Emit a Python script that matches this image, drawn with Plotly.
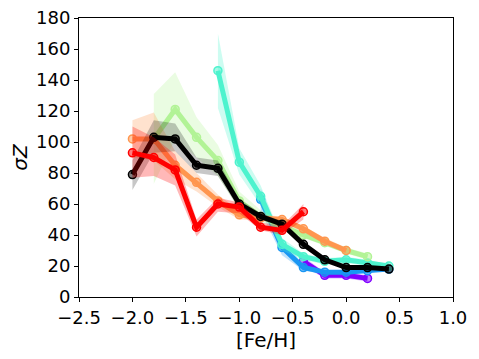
import plotly.graph_objects as go

# [Fe/H] bins for each series
feh_purple = [-0.4, -0.2, 0.0, 0.2]
sz_purple = [23, 14, 14, 12]
lo_purple = [20, 12, 12, 10]
hi_purple = [26, 16, 16, 14]

feh_blue = [-0.8, -0.6, -0.4, -0.2, 0.0, 0.2, 0.4]
sz_blue = [63, 32, 19, 16, 16, 17, 18]
lo_blue = [55, 27, 17, 15, 15, 16, 17]
hi_blue = [70, 37, 21, 17, 17, 18, 19]

feh_turq = [-1.2, -1.0, -0.8, -0.6, -0.4, -0.2, 0.0, 0.2, 0.4]
sz_turq = [146, 87, 65, 34, 26, 23, 24, 22, 20]
lo_turq = [122, 79, 59, 30, 24, 21, 22, 20, 19]
hi_turq = [170, 96, 72, 38, 28, 25, 26, 24, 21]

feh_green = [-1.8, -1.6, -1.4, -1.2, -1.0, -0.8, -0.6, -0.4, -0.2, 0.0, 0.2]
sz_green = [102, 121, 103, 88, 62, 52, 46, 40, 35, 30, 26]
lo_green = [73, 102, 90, 78, 56, 48, 43, 38, 33, 28, 24]
hi_green = [131, 145, 116, 98, 68, 56, 49, 42, 37, 32, 28]

feh_orange = [-2.0, -1.8, -1.6, -1.4, -1.2, -1.0, -0.8, -0.6, -0.4, -0.2, 0.0]
sz_orange = [102, 102, 85, 74, 62, 53, 51, 50, 44, 36, 30]
lo_orange = [90, 88, 76, 68, 58, 50, 49, 48, 42, 34, 28]
hi_orange = [114, 119, 94, 80, 66, 56, 53, 52, 46, 38, 32]

feh_black = [-2.0, -1.8, -1.6, -1.4, -1.2, -1.0, -0.8, -0.6, -0.4, -0.2, 0.0, 0.2, 0.4]
sz_black = [79, 103, 102, 85, 83, 60, 52, 47, 34, 24, 19, 19, 18]
lo_black = [69, 93, 94, 80, 78, 57, 50, 45, 32, 23, 18, 18, 17]
hi_black = [88, 114, 112, 90, 88, 63, 54, 49, 36, 25, 20, 20, 19]

feh_red = [-2.0, -1.8, -1.6, -1.4, -1.2, -1.0, -0.8, -0.6, -0.4]
sz_red = [93, 90, 82, 45, 60, 58, 45, 43, 55]
lo_red = [77, 78, 72, 39, 55, 54, 43, 40, 50]
hi_red = [110, 103, 92, 50, 64, 61, 48, 46, 60]

series = [
    (feh_purple, sz_purple, lo_purple, hi_purple, (128, 0, 255)),
    (feh_blue, sz_blue, lo_blue, hi_blue, (25, 150, 243)),
    (feh_turq, sz_turq, lo_turq, hi_turq, (77, 243, 206)),
    (feh_green, sz_green, lo_green, hi_green, (178, 243, 150)),
    (feh_orange, sz_orange, lo_orange, hi_orange, (255, 150, 79)),
    (feh_black, sz_black, lo_black, hi_black, (0, 0, 0)),
    (feh_red, sz_red, lo_red, hi_red, (255, 0, 0)),
]

fig = go.Figure()

for x, y, lo, hi, rgb in series:
    col = "rgb(%d,%d,%d)" % rgb
    a = 0.22 if rgb == (0, 0, 0) else 0.28
    # shaded band
    fig.add_trace(go.Scatter(
        x=x + x[::-1],
        y=hi + lo[::-1],
        fill='toself',
        fillcolor="rgba(%d,%d,%d,%.2f)" % (rgb + (a,)),
        line=dict(width=0),
        mode='lines',
        hoverinfo='skip',
        showlegend=False
    ))
    fig.add_trace(go.Scatter(
        x=x,
        y=y,
        mode='lines+markers',
        line=dict(color=col, width=5),
        marker=dict(symbol='circle', size=8,
                    color="rgba(%d,%d,%d,0.5)" % rgb,
                    line=dict(width=1.5, color=col)),
        showlegend=False
    ))

tick_font = dict(family="DejaVu Sans", size=18, color="black")
title_font = dict(family="DejaVu Sans", size=20, color="black")

# the page body adds an 8px margin, so the figure is shifted by that much
fig.update_layout(
    width=471,
    height=351,
    margin=dict(l=71, r=26, t=10, b=62),
    plot_bgcolor="white",
    paper_bgcolor="white",
    font=tick_font,
    xaxis=dict(
        range=[-2.5, 1.0],
        tickvals=[-2.5, -2.0, -1.5, -1.0, -0.5, 0.0, 0.5, 1.0],
        ticktext=["\u22122.5", "\u22122.0", "\u22121.5", "\u22121.0", "\u22120.5", "0.0", "0.5", "1.0"],
        showline=True, mirror=True, linecolor="black", linewidth=1,
        ticks="outside", ticklen=4, tickcolor="black",
        showgrid=False, zeroline=False, automargin=False,
        ticklabeloverflow="allow",
        title=dict(text="[Fe/H]", font=title_font, standoff=2),
    ),
    yaxis=dict(
        range=[0, 180],
        tickvals=list(range(0, 181, 20)),
        showline=True, mirror=True, linecolor="black", linewidth=1,
        ticks="outside", ticklen=4, tickcolor="black",
        showgrid=False, zeroline=False, automargin=False,
        ticklabeloverflow="allow",
        title=dict(text="<i>σZ</i>", font=title_font, standoff=6),
    ),
)

fig.write_html("out.html")
